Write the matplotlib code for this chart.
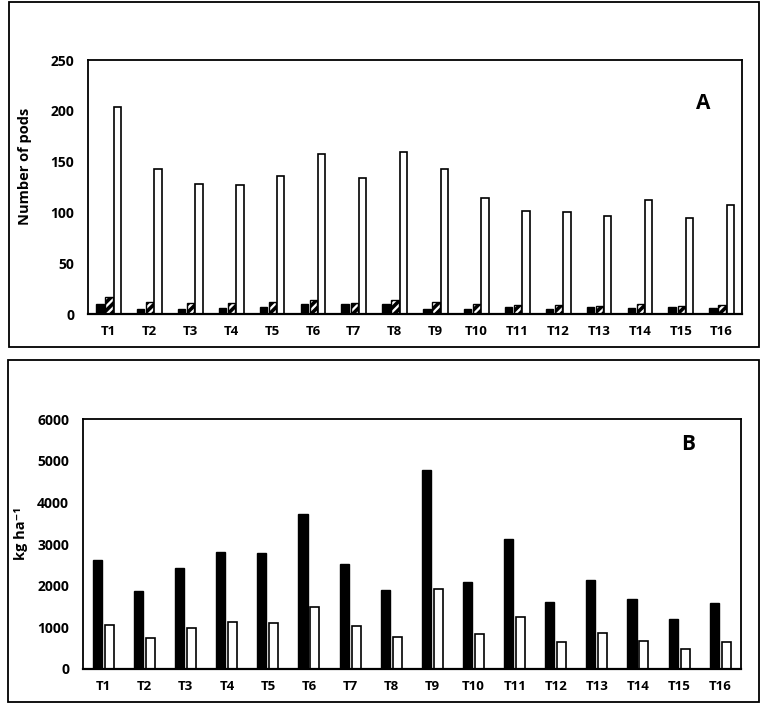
import numpy as np
import matplotlib
matplotlib.use('Agg')
import matplotlib.pyplot as plt
from matplotlib.patches import Rectangle

plt.rcParams['font.family'] = ['Open Sans', 'DejaVu Sans']
plt.rcParams['font.weight'] = 'bold'
plt.rcParams['hatch.linewidth'] = 2.6

treatments = ['T%d' % i for i in range(1, 17)]

# panel A - number of pods (three series)
pods_black = [9.5, 4.5, 4.5, 6, 7, 10, 10, 9.5, 5, 4.5, 7, 5, 7, 6, 7, 6]
pods_hatch = [17, 12, 11, 11, 12, 13.5, 11, 13.5, 12, 9.5, 9, 9, 8, 9.5, 8, 9]
pods_white = [204, 143, 128, 127, 136, 157, 134, 159, 143, 114, 101, 100, 96, 112, 94, 107]

# panel B - kg ha-1 (two series)
yield_black = [2620, 1870, 2430, 2810, 2780, 3720, 2530, 1890, 4770, 2100, 3110, 1620, 2140, 1680, 1210, 1580]
yield_white = [1060, 750, 980, 1130, 1110, 1500, 1030, 770, 1920, 840, 1260, 660, 860, 680, 490, 640]

W, H = 770, 716
fig = plt.figure(figsize=(W / 100, H / 100), dpi=100)


def px_axes(l, t, r, b):
    return fig.add_axes([l / W, 1 - b / H, (r - l) / W, (b - t) / H])


def box(l, t, r, b):
    fig.patches.append(Rectangle((l / W, 1 - b / H), (r - l) / W, (b - t) / H,
                                 transform=fig.transFigure, fill=False,
                                 edgecolor='black', linewidth=1.3))


box(9, 2, 759, 347)
box(8, 360, 759, 702)

x = np.arange(len(treatments))

# ---- A
ax1 = px_axes(88, 60, 742, 314)
bw = 0.18
ax1.bar(x - 0.21, pods_black, width=bw, color='black', edgecolor='black', linewidth=1)
ax1.bar(x + 0.015, pods_hatch, width=bw, color='white', edgecolor='black', linewidth=1, hatch='////')
ax1.bar(x + 0.215, pods_white, width=bw, color='white', edgecolor='black', linewidth=1.2)
ax1.set_xlim(-0.5, 15.5)
ax1.set_ylim(0, 250)
ax1.set_yticks(range(0, 251, 50))
ax1.set_ylabel('Number of pods', fontsize=10.5, fontweight='bold')
ax1.yaxis.set_label_coords(-0.086, 0.58)
ax1.text(0.94, 0.83, 'A', transform=ax1.transAxes, fontsize=15, fontweight='bold', ha='center', va='center')

# ---- B
ax2 = px_axes(83, 419, 741, 669)
bw2 = 0.22
ax2.bar(x - 0.15, yield_black, width=bw2, color='black', edgecolor='black', linewidth=1)
ax2.bar(x + 0.14, yield_white, width=bw2, color='white', edgecolor='black', linewidth=1.2)
ax2.set_xlim(-0.5, 15.5)
ax2.set_ylim(0, 6000)
ax2.set_yticks(range(0, 6001, 1000))
ax2.set_ylabel('kg ha⁻¹', fontsize=10.5, fontweight='bold')
ax2.yaxis.set_label_coords(-0.084, 0.54)
ax2.text(0.92, 0.9, 'B', transform=ax2.transAxes, fontsize=15, fontweight='bold', ha='center', va='center')

for ax in (ax1, ax2):
    ax.set_xticks(x)
    ax.set_xticklabels(treatments)
    ax.tick_params(axis='y', length=0, labelsize=10, pad=10)
    ax.tick_params(axis='x', length=0, labelsize=9.5, pad=8)
    for lab in ax.get_xticklabels() + ax.get_yticklabels():
        lab.set_fontweight('bold')
    for s in ax.spines.values():
        s.set_linewidth(1.3)
    ax.spines['bottom'].set_linewidth(1.6)

fig.savefig('out.png', dpi=100)
